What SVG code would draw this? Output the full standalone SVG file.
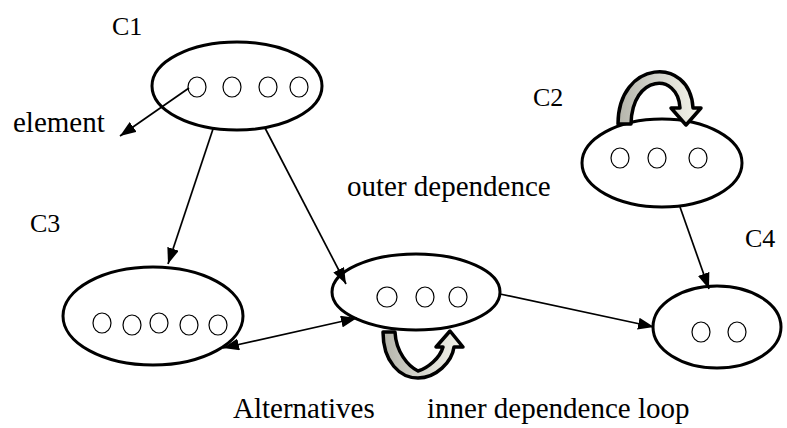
<svg xmlns="http://www.w3.org/2000/svg" width="787" height="428" viewBox="0 0 787 428">
  <style>
    .cluster { fill: #ffffff; stroke: #000000; stroke-width: 3; }
    .elem { fill: #ffffff; stroke: #000000; stroke-width: 1.2; }
    .edge { stroke: #000000; stroke-width: 1.7; fill: none; marker-end: url(#head); }
    .both { marker-start: url(#head); }
    .loop { stroke: #000000; stroke-width: 3.5; stroke-linejoin: round; }
    .label { font-family: "Liberation Serif", "Times New Roman", serif; font-size: 29px; fill: #000000; }
    .name { font-family: "Liberation Serif", "Times New Roman", serif; font-size: 26px; fill: #000000; }
  </style>
  <defs>
    <marker id="head" viewBox="0 0 16 12" refX="16" refY="6" markerWidth="16" markerHeight="12" markerUnits="userSpaceOnUse" orient="auto-start-reverse">
      <path d="M0,0 L16,6 L0,12 z" fill="#000000"/>
    </marker>
    <linearGradient id="band" x1="0" y1="0" x2="1" y2="0">
      <stop offset="0" stop-color="#b4b4aa"/>
      <stop offset="0.5" stop-color="#d8d8d0"/>
      <stop offset="1" stop-color="#f4f4ea"/>
    </linearGradient>
  </defs>

  <rect width="787" height="428" fill="#ffffff"/>

  <!-- cluster C1 -->
  <g id="C1">
    <ellipse class="cluster" cx="237" cy="86" rx="85" ry="44"/>
    <ellipse class="elem" cx="197" cy="87" rx="9" ry="10"/>
    <ellipse class="elem" cx="232" cy="87" rx="9" ry="10"/>
    <ellipse class="elem" cx="268" cy="87" rx="9" ry="10"/>
    <ellipse class="elem" cx="299" cy="87" rx="9" ry="10"/>
    <text class="name" x="112" y="35">C1</text>
  </g>

  <!-- cluster C2 with its self loop -->
  <g id="C2">
    <ellipse class="cluster" cx="662" cy="163" rx="80" ry="44"/>
    <ellipse class="elem" cx="620" cy="158" rx="9" ry="10"/>
    <ellipse class="elem" cx="657" cy="158" rx="9" ry="10"/>
    <ellipse class="elem" cx="698" cy="158" rx="9" ry="10"/>
    <path class="loop" fill="url(#band)" d="M618,124 C618,60 690,55 693,108 L701,108 L686,125 L671,108 L680,108 C678,72 632,74 631,124 Z"/>
    <text class="name" x="533" y="106">C2</text>
  </g>

  <!-- cluster C3 -->
  <g id="C3">
    <ellipse class="cluster" cx="153" cy="316" rx="90" ry="49"/>
    <ellipse class="elem" cx="102" cy="323" rx="9" ry="10"/>
    <ellipse class="elem" cx="132" cy="325" rx="9" ry="10"/>
    <ellipse class="elem" cx="159" cy="323" rx="9" ry="10"/>
    <ellipse class="elem" cx="189" cy="325" rx="9" ry="10"/>
    <ellipse class="elem" cx="218" cy="325" rx="9" ry="10"/>
    <text class="name" x="30" y="232">C3</text>
  </g>

  <!-- middle cluster with inner dependence loop -->
  <g id="Cmid">
    <ellipse class="cluster" cx="416" cy="292" rx="84" ry="38"/>
    <ellipse class="elem" cx="387" cy="297" rx="10" ry="10"/>
    <ellipse class="elem" cx="425" cy="297" rx="9" ry="10"/>
    <ellipse class="elem" cx="458" cy="297" rx="9" ry="10"/>
    <path class="loop" fill="url(#band)" d="M383,332 C383,362 400,378 418,378 C436,378 452,362 454,347 L463,347 L450,331 L436,347 L443,347 C440,358 428,368 418,371 C408,366 396,352 395,332 Z"/>
  </g>

  <!-- cluster C4 -->
  <g id="C4">
    <ellipse class="cluster" cx="717" cy="327" rx="64" ry="41"/>
    <ellipse class="elem" cx="701" cy="332" rx="9" ry="10"/>
    <ellipse class="elem" cx="737" cy="332" rx="9" ry="10"/>
    <text class="name" x="745" y="247">C4</text>
  </g>

  <!-- connectors, drawn over the clusters so the element pointer stays visible -->
  <g id="connectors">
    <path class="edge" d="M189,88 L120,136"/>
    <path class="edge" d="M213,129 L168,264"/>
    <path class="edge" d="M265,128 L346,284"/>
    <path class="edge" d="M680,207 L709,289"/>
    <path class="edge" d="M500,294 L654,327"/>
    <path class="edge both" d="M223,348 L357,318"/>
  </g>

  <!-- labels -->
  <g id="labels">
    <text class="label" x="13" y="132">element</text>
    <text class="label" x="347" y="196">outer dependence</text>
    <text class="label" x="233" y="418">Alternatives</text>
    <text class="label" x="427" y="418">inner dependence loop</text>
  </g>
</svg>
